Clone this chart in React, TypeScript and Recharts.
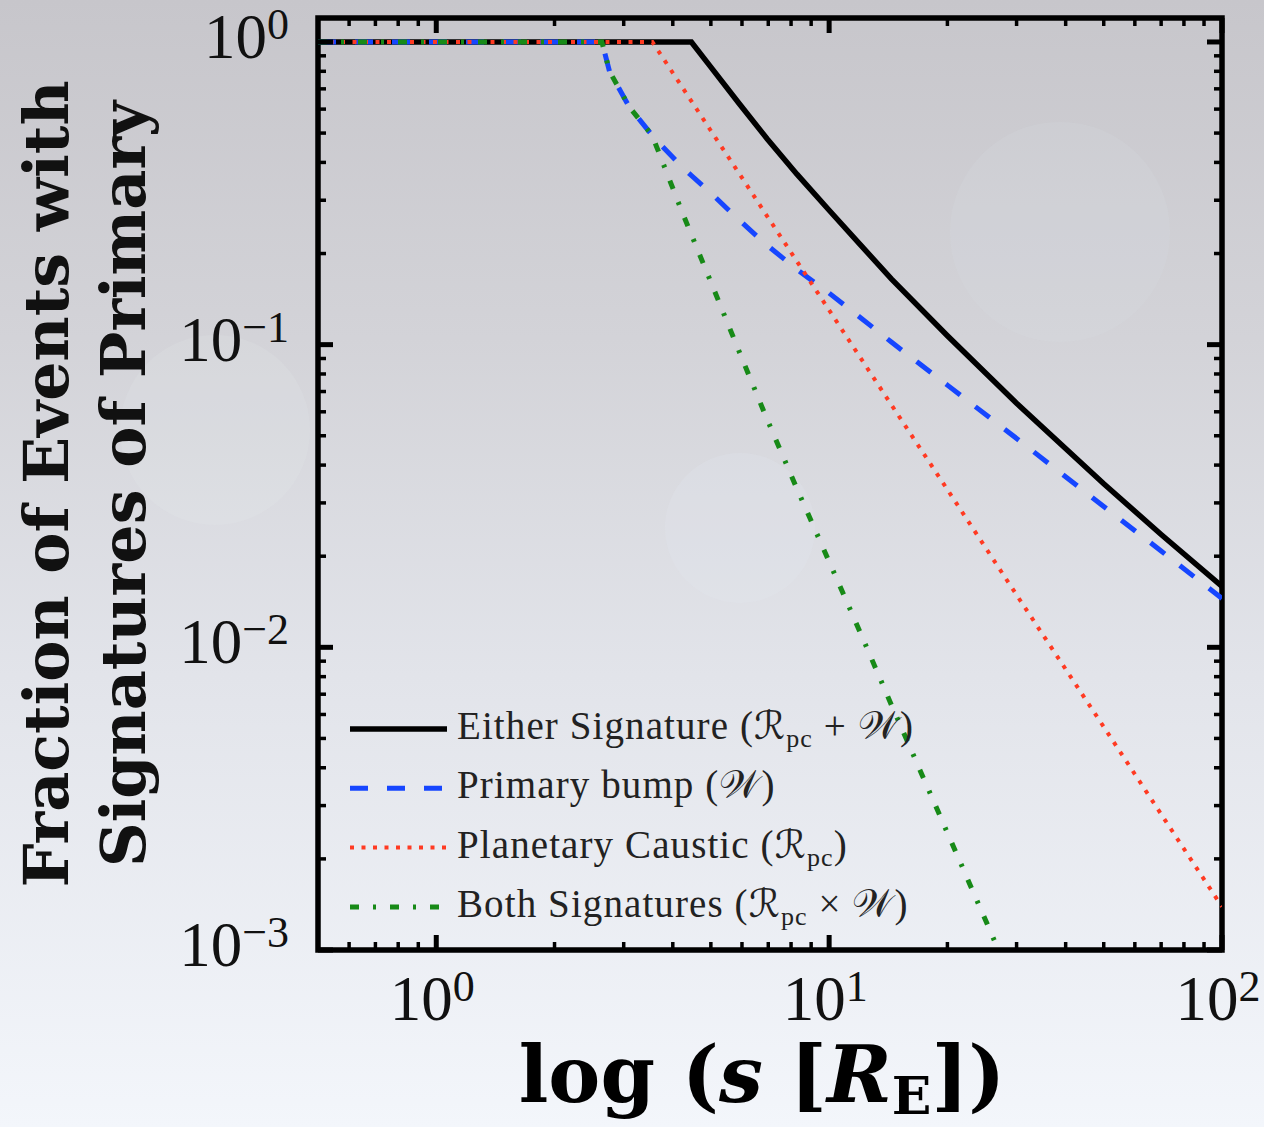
import React from 'react';
import { LineChart, Line, XAxis, YAxis, ReferenceArea, Legend } from 'recharts';

// Separation s (in Einstein radii) at which each curve was sampled
const sValues = [0.5, 1, 2, 2.64, 2.76, 3.1, 3.55, 3.63, 4.23, 4.46, 5, 5.9, 6.95, 8.29, 10, 12, 14.4, 20, 30, 50, 70, 100];
// Either signature (R_pc + W)
const eitherSig = [1, 1, 1, 1, 1, 1, 1, 1, 1, 1, 0.826, 0.626, 0.479, 0.365, 0.278, 0.214, 0.165, 0.107, 0.064, 0.0347, 0.0236, 0.0159];
// Primary bump (W)
const primaryBump = [1, 1, 1, 1, 0.8, 0.61, 0.49, 0.474, 0.386, 0.362, 0.317, 0.258, 0.213, 0.177, 0.148, 0.123, 0.102, 0.0735, 0.049, 0.0292, 0.0208, 0.0145];
// Planetary caustic (R_pc)
const planetaryCaustic = [1, 1, 1, 1, 1, 1, 1, 0.957, 0.708, 0.638, 0.509, 0.368, 0.266, 0.188, 0.13, 0.0907, 0.0633, 0.0332, 0.0149, 0.00546, 0.00281, 0.00139];
// Both signatures (R_pc x W)
const bothSig = [1, 1, 1, 1, 0.8, 0.61, 0.49, 0.454, 0.273, 0.231, 0.161, 0.095, 0.0567, 0.0333, 0.0192, 0.0112, 0.00646, 0.00244, 0.00073, null, null, null];

// Axis ticks (decades are labelled, the rest are minor ticks)
const xTicks = [0.6, 0.7, 0.8, 0.9, 1, 2, 3, 4, 5, 6, 7, 8, 9, 10, 20, 30, 40, 50, 60, 70, 80, 90, 100];
const yTicks = [
  0.001, 0.002, 0.003, 0.004, 0.005, 0.006, 0.007, 0.008, 0.009,
  0.01, 0.02, 0.03, 0.04, 0.05, 0.06, 0.07, 0.08, 0.09,
  0.1, 0.2, 0.3, 0.4, 0.5, 0.6, 0.7, 0.8, 0.9, 1,
];
const xDomain = [0.5, 100];
const yDomain = [0.001, 1.2];

const data = sValues.map((s, i) => ({
  s,
  either: eitherSig[i],
  primary: primaryBump[i],
  planetary: planetaryCaustic[i],
  both: bothSig[i],
}));

type Part = { t: string; sub?: boolean; script?: boolean };
const SCRIPT_R = '\u211B';
const SCRIPT_W = '\u{1D4B2}';

const series = [
  {
    key: 'either', color: '#000000', width: 5.5, dash: undefined as string | undefined,
    label: [{ t: 'Either Signature (' }, { t: SCRIPT_R, script: true }, { t: 'pc', sub: true }, { t: ' + ' }, { t: SCRIPT_W, script: true }, { t: ')' }] as Part[],
  },
  {
    key: 'primary', color: '#1646ff', width: 5, dash: '18 19',
    label: [{ t: 'Primary bump (' }, { t: SCRIPT_W, script: true }, { t: ')' }] as Part[],
  },
  {
    key: 'planetary', color: '#ff3a22', width: 4, dash: '4 7.5',
    label: [{ t: 'Planetary Caustic (' }, { t: SCRIPT_R, script: true }, { t: 'pc', sub: true }, { t: ')' }] as Part[],
  },
  {
    key: 'both', color: '#178a17', width: 5, dash: '9 14 3 14',
    label: [{ t: 'Both Signatures (' }, { t: SCRIPT_R, script: true }, { t: 'pc', sub: true }, { t: ' \u00D7 ' }, { t: SCRIPT_W, script: true }, { t: ')' }] as Part[],
  },
];

const SERIF = '"Liberation Serif", "DejaVu Serif", serif';
const BOLD_SERIF = '"DejaVu Serif", serif';
const MAJOR_LEN = 15;
const MINOR_LEN = 8;

const isMajor = (v: number) => Math.abs(Math.log10(v) - Math.round(Math.log10(v))) < 1e-6;
const expText = (v: number) => {
  const e = Math.round(Math.log10(v));
  return e < 0 ? '\u2212' + Math.abs(e) : String(e);
};

const PowerLabel = ({ x, y, v, anchor }: { x: number; y: number; v: number; anchor: 'middle' | 'end' }) => (
  <text x={x} y={y} textAnchor={anchor} fontFamily={SERIF} fontSize={63} fill="#111">
    <tspan>10</tspan>
    <tspan dy={-19} fontSize={44}>{expText(v)}</tspan>
  </text>
);

const BottomTick = (props: any) => {
  const { x, y, payload } = props;
  const major = isMajor(payload.value);
  return (
    <g>
      <line x1={x} x2={x} y1={y} y2={y - (major ? MAJOR_LEN : MINOR_LEN)} stroke="#000" strokeWidth={major ? 5 : 3.5} />
      {major && <PowerLabel x={x - 4} y={y + 70} v={payload.value} anchor="middle" />}
    </g>
  );
};

const TopTick = (props: any) => {
  const { x, y, payload } = props;
  const major = isMajor(payload.value);
  return <line x1={x} x2={x} y1={y} y2={y + (major ? MAJOR_LEN : MINOR_LEN)} stroke="#000" strokeWidth={major ? 5 : 3.5} />;
};

const LeftTick = (props: any) => {
  const { x, y, payload } = props;
  const major = isMajor(payload.value);
  return (
    <g>
      <line x1={x} x2={x + (major ? MAJOR_LEN : MINOR_LEN)} y1={y} y2={y} stroke="#000" strokeWidth={major ? 5 : 3.5} />
      {major && <PowerLabel x={x - 29} y={y + 16} v={payload.value} anchor="end" />}
    </g>
  );
};

const RightTick = (props: any) => {
  const { x, y, payload } = props;
  const major = isMajor(payload.value);
  return <line x1={x} x2={x - (major ? MAJOR_LEN : MINOR_LEN)} y1={y} y2={y} stroke="#000" strokeWidth={major ? 5 : 3.5} />;
};

const XTitle = (props: any) => {
  const vb = props.viewBox;
  const cx = vb.x + vb.width / 2 - 8;
  return (
    <text x={cx} y={vb.y + 152} textAnchor="middle" fontFamily={BOLD_SERIF} fontWeight="bold" fontSize={78} fill="#000">
      <tspan>log (</tspan>
      <tspan fontStyle="italic">s</tspan>
      <tspan> [</tspan>
      <tspan fontStyle="italic">R</tspan>
      <tspan fontSize={52} dy={12}>E</tspan>
      <tspan dy={-12}>])</tspan>
    </text>
  );
};

const YTitle = (props: any) => {
  const vb = props.viewBox;
  const cy = vb.y + vb.height / 2;
  return (
    <g fontFamily={BOLD_SERIF} fontWeight="bold" fontSize={62} fill="#111">
      <text x={68} y={cy} textAnchor="middle" transform={`rotate(-90 68 ${cy})`}>Fraction of Events with</text>
      <text x={145} y={cy} textAnchor="middle" transform={`rotate(-90 145 ${cy})`}>Signatures of Primary</text>
    </g>
  );
};

const LegendBox = () => (
  <svg width={620} height={250} style={{ overflow: 'visible', display: 'block' }}>
    {series.map((sr, i) => {
      const ly = 39 + i * 59.3;
      return (
        <g key={sr.key}>
          <line x1={10} x2={107} y1={ly} y2={ly} stroke={sr.color} strokeWidth={sr.width} strokeDasharray={sr.dash} />
          <text x={117} y={ly + 10} fontFamily={SERIF} fontSize={39} letterSpacing={1.1} fill="#222">
            {sr.label.map((p, j) =>
              p.sub ? (
                <tspan key={j} fontSize={26} dy={8}>{p.t}</tspan>
              ) : (
                <tspan key={j} dy={j > 0 && sr.label[j - 1].sub ? -8 : 0} fontFamily={p.script ? '"DejaVu Serif", "DejaVu Sans", serif' : undefined}>{p.t}</tspan>
              ),
            )}
          </text>
        </g>
      );
    })}
  </svg>
);

// Soft out-of-focus discs in the backdrop
const bokeh = [
  { cx: 1060, cy: 232, r: 110, c: 'rgba(222,224,232,0.14)' },
  { cx: 215, cy: 430, r: 95, c: 'rgba(236,238,244,0.14)' },
  { cx: 740, cy: 528, r: 75, c: 'rgba(226,230,242,0.22)' },
];

export default function App() {
  return (
    <div
      style={{
        position: 'absolute', left: 0, top: 0, width: 1264, height: 1127, overflow: 'hidden',
        background: 'linear-gradient(to bottom, #c7c6cb 0%, #d3d3d8 30%, #e2e4ea 60%, #f3f6fb 100%)',
      }}
    >
      {bokeh.map((b, i) => (
        <div key={i} style={{ position: 'absolute', left: b.cx - b.r, top: b.cy - b.r, width: 2 * b.r, height: 2 * b.r, borderRadius: '50%', background: b.c }} />
      ))}
      <div style={{ position: 'absolute', left: 0, top: 0 }}>
        <LineChart width={1264} height={1127} data={data} margin={{ top: 0, right: 0, bottom: 0, left: 0 }}>
          <XAxis
            xAxisId="bottom" dataKey="s" type="number" scale="log" domain={xDomain} allowDataOverflow
            ticks={xTicks} interval={0} tickSize={0} tickMargin={0} tickLine={false} axisLine={false}
            height={177} tick={(p: any) => <BottomTick {...p} />} label={<XTitle />}
          />
          <XAxis
            xAxisId="top" orientation="top" dataKey="s" type="number" scale="log" domain={xDomain} allowDataOverflow
            ticks={xTicks} interval={0} tickSize={0} tickMargin={0} tickLine={false} axisLine={false}
            height={18} tick={(p: any) => <TopTick {...p} />}
          />
          <YAxis
            yAxisId="left" type="number" scale="log" domain={yDomain} allowDataOverflow
            ticks={yTicks} interval={0} tickSize={0} tickMargin={0} tickLine={false} axisLine={false}
            width={318} tick={(p: any) => <LeftTick {...p} />} label={<YTitle />}
          />
          <YAxis
            yAxisId="right" orientation="right" type="number" scale="log" domain={yDomain} allowDataOverflow
            ticks={yTicks} interval={0} tickSize={0} tickMargin={0} tickLine={false} axisLine={false}
            width={42} tick={(p: any) => <RightTick {...p} />}
          />
          <ReferenceArea
            xAxisId="bottom" yAxisId="left" x1={xDomain[0]} x2={xDomain[1]} y1={yDomain[0]} y2={yDomain[1]}
            fill="none" fillOpacity={0} stroke="#000" strokeWidth={5.5} ifOverflow="visible"
          />
          {series.map((sr) => (
            <Line
              key={sr.key} xAxisId="bottom" yAxisId="left" dataKey={sr.key} type="linear"
              stroke={sr.color} strokeWidth={sr.width} strokeDasharray={sr.dash}
              dot={false} activeDot={false} isAnimationActive={false} connectNulls={false}
            />
          ))}
          <Legend
            layout="vertical" align="center" verticalAlign="middle"
            wrapperStyle={{ left: 340, top: 690, width: 620, height: 250 }}
            content={() => <LegendBox />}
          />
        </LineChart>
      </div>
    </div>
  );
}
